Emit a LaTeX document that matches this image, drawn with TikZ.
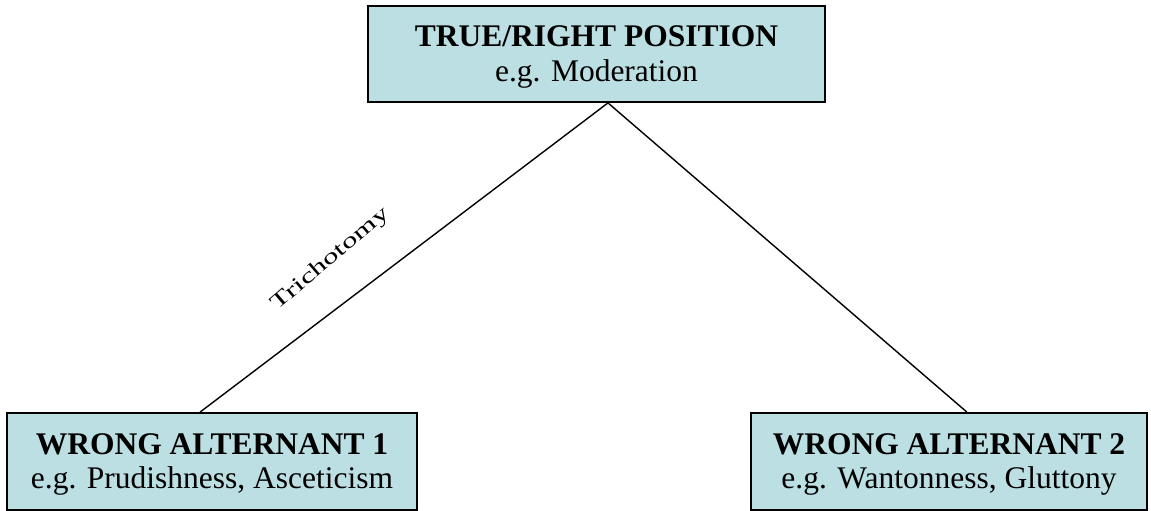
\documentclass[tikz,border=0pt]{standalone}
\usepackage{fontspec}
\setmainfont{Liberation Serif}
\usetikzlibrary{calc}
\definecolor{boxfill}{RGB}{188,223,227}
\newcommand{\boxtext}[2]{\raisebox{-3pt}[\height][\depth]{\begin{tabular}{@{}c@{}}\textbf{#1}\\#2\end{tabular}}}
\tikzset{
  box/.style={draw=black, line width=1.8pt, fill=boxfill, rectangle, inner sep=0pt,
    font=\fontsize{31.5}{35}\selectfont},
  link/.style={draw=black, line width=1.4pt}
}
\begin{document}
\begin{tikzpicture}[x=1pt,y=-1pt]
\renewcommand{\arraystretch}{0.98}
\useasboundingbox (0,0) rectangle (1151,511);
\node[box, minimum width=457pt, minimum height=96pt] (top) at (596.5,54)
  {\boxtext{TRUE/RIGHT POSITION}{e.g. Moderation}};
\node[box, minimum width=410pt, minimum height=97pt] (left) at (212,461.5)
  {\boxtext{WRONG ALTERNANT 1}{e.g. Prudishness, Asceticism}};
\node[box, minimum width=396pt, minimum height=97pt] (right) at (949,461.5)
  {\boxtext{WRONG ALTERNANT 2}{e.g. Wantonness, Gluttony}};
\coordinate (apex) at ($(top.south west)!0.525!(top.south east)$);
\coordinate (lend) at ($(left.north west)!0.471!(left.north east)$);
\coordinate (rend) at ($(right.north west)!0.545!(right.north east)$);
\draw[link] (apex) -- (lend);
\draw[link] (apex) -- (rend);
\node[anchor=base, rotate=40.5, inner sep=0pt, font=\fontsize{21}{24}\selectfont] (tri) at (334,263)
  {\scalebox{1.5}[1]{Trichotomy}};
\end{tikzpicture}
\end{document}
